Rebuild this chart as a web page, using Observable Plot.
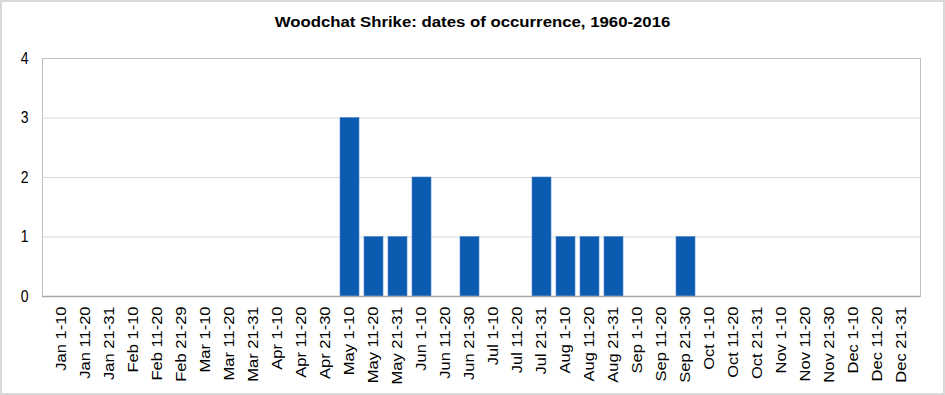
<!DOCTYPE html>
<html>
<head>
<meta charset="utf-8">
<script src="https://cdn.jsdelivr.net/npm/d3@7"></script>
<script src="https://cdn.jsdelivr.net/npm/@observablehq/plot@0.6"></script>
<style>
  html, body { margin: 0; padding: 0; background: #fff; overflow: hidden; }
  #wrap { position: relative; width: 945px; height: 395px; background: #fff; }
  #title { height: 40px; line-height: 44px; text-align: center; font-family: "Liberation Sans", Arial, sans-serif; font-weight: bold; font-size: 14px; color: #000; white-space: nowrap; }
  #title span { display: inline-block; transform-origin: 50% 60%; }
  #border { position: absolute; left: 0; top: 0; width: 945px; height: 395px; box-sizing: border-box; border: 2px solid #d9d9d9; pointer-events: none; }
</style>
</head>
<body>
<div id="wrap">
  <div id="title"><span id="titleText">Woodchat Shrike: dates of occurrence, 1960-2016</span></div>
  <div id="chart"></div>
  <div id="border"></div>
</div>
<script>
const periods = [
  "Jan 1-10", "Jan 11-20", "Jan 21-31",
  "Feb 1-10", "Feb 11-20", "Feb 21-29",
  "Mar 1-10", "Mar 11-20", "Mar 21-31",
  "Apr 1-10", "Apr 11-20", "Apr 21-30",
  "May 1-10", "May 11-20", "May 21-31",
  "Jun 1-10", "Jun 11-20", "Jun 21-30",
  "Jul 1-10", "Jul 11-20", "Jul 21-31",
  "Aug 1-10", "Aug 11-20", "Aug 21-31",
  "Sep 1-10", "Sep 11-20", "Sep 21-30",
  "Oct 1-10", "Oct 11-20", "Oct 21-31",
  "Nov 1-10", "Nov 11-20", "Nov 21-30",
  "Dec 1-10", "Dec 11-20", "Dec 21-31"
];
const counts = [
  0, 0, 0,
  0, 0, 0,
  0, 0, 0,
  0, 0, 0,
  3, 1, 1,
  2, 0, 1,
  0, 0, 2,
  1, 1, 1,
  0, 0, 1,
  0, 0, 0,
  0, 0, 0,
  0, 0, 0
];
const yTicks = [0, 1, 2, 3, 4];
const gridTicks = [1, 2, 3];

const data = periods.map((p, i) => ({period: p, count: counts[i]}));
const FONT = "'Liberation Sans', Arial, sans-serif";

const chart = Plot.plot({
  width: 945,
  height: 355,
  marginTop: 18,
  marginBottom: 99,
  marginLeft: 42,
  marginRight: 25,
  style: {fontFamily: FONT, color: "#000", background: "transparent"},
  x: {domain: periods, paddingInner: 0.22, paddingOuter: 0.11},
  y: {domain: [0, 4]},
  marks: [
    Plot.ruleY(gridTicks, {stroke: "#d9d9d9", strokeWidth: 1}),
    Plot.frame({stroke: "#bfbfbf", strokeWidth: 1}),
    Plot.barY(data, {x: "period", y: "count", fill: "#0b5bb1", stroke: "#4f86c9", strokeWidth: 0.6}),
    Plot.ruleY([0], {stroke: "#a6a6a6", strokeWidth: 1.5}),
    Plot.axisX({tickRotate: -90, tickSize: 0, tickPadding: 10, label: null, fontSize: 14, fill: "#000"}),
    Plot.axisY(yTicks, {tickSize: 0, tickPadding: 14, label: null, tickFormat: d3.format("d"), fontSize: 14, fill: "#000"})
  ]
});
document.getElementById("chart").appendChild(chart);

// stretch tick labels to match the reference's proportions
chart.querySelectorAll('[aria-label="x-axis tick label"] text').forEach(t => {
  const tr = t.getAttribute("transform");
  if (tr) t.setAttribute("transform", tr + " scale(1.18,1)");
});
chart.querySelectorAll('[aria-label="y-axis tick label"] text').forEach(t => {
  const tr = t.getAttribute("transform");
  if (tr) t.setAttribute("transform", tr + " scale(1,1.15)");
});

// size the title to the reference's width (~396px) and cap height (~11px)
const tt = document.getElementById("titleText");
const w = tt.getBoundingClientRect().width;
const fs = 14 * 396 / w;
tt.style.fontSize = fs + "px";
tt.style.transform = "scaleY(" + (11 / (0.729 * fs)).toFixed(3) + ")";
</script>
</body>
</html>
